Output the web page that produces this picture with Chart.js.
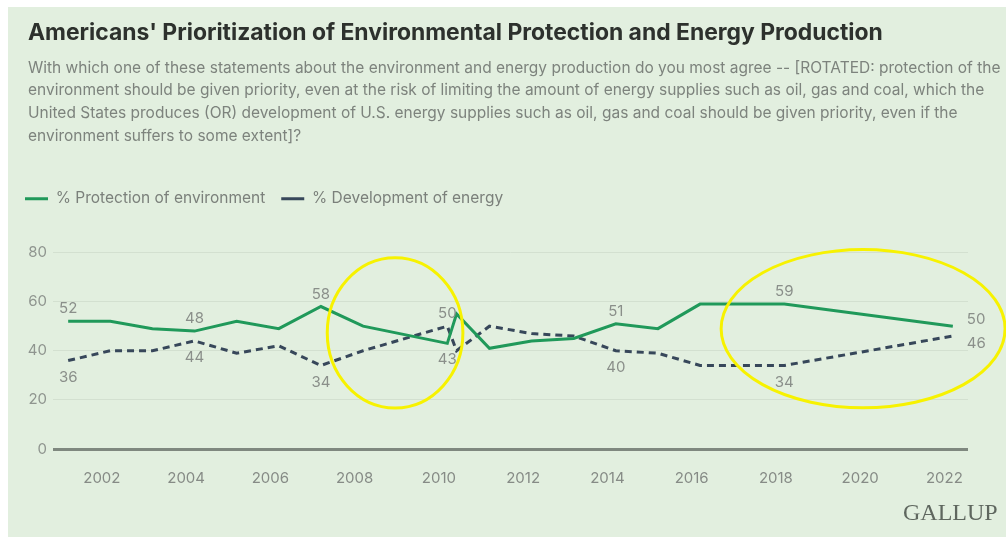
<!DOCTYPE html>
<html>
<head>
<meta charset="utf-8">
<script src="https://cdn.jsdelivr.net/npm/chart.js@4/dist/chart.umd.min.js"></script>
<style>
  html, body { margin: 0; padding: 0; background: #fff; }
  body { width: 1006px; height: 540px; position: relative; overflow: hidden; font-family: Inter, "Noto Sans", sans-serif; }
  .panel { position: absolute; left: 8px; top: 7px; right: 0; bottom: 3px; background: #e2efdf; }
  .title { position: absolute; left: 28px; top: 18px; font-size: 22.9px; font-weight: 700; color: #2d312d; white-space: nowrap; z-index: 2; }
  .sub { position: absolute; left: 28px; top: 56.5px; font-size: 15.5px; line-height: 22.9px; color: #7d837d; white-space: nowrap; z-index: 2; }
  .logo { position: absolute; left: 903px; top: 499px; font-family: "Liberation Serif", serif; font-size: 24px; color: #5f675f; z-index: 2; }
  #chart { position: absolute; left: 0; top: 0; z-index: 1; }
</style>
</head>
<body>
<div class="panel"></div>
<div class="title">Americans' Prioritization of Environmental Protection and Energy Production</div>
<div class="sub">With which one of these statements about the environment and energy production do you most agree -- [ROTATED: protection of the<br>environment should be given priority, even at the risk of limiting the amount of energy supplies such as oil, gas and coal, which the<br>United States produces (OR) development of U.S. energy supplies such as oil, gas and coal should be given priority, even if the<br>environment suffers to some extent]?</div>
<div class="logo">GALLUP</div>
<canvas id="chart" width="1006" height="540"></canvas>
<script>
// poll dates (March of each year, plus the May 2010 poll)
const pollDates = [2001.2, 2002.2, 2003.2, 2004.2, 2005.2, 2006.2, 2007.2, 2008.2, 2010.2, 2010.42,
  2011.2, 2012.2, 2013.2, 2014.2, 2015.2, 2016.2, 2017.2, 2018.2, 2022.2];
const environment = [52, 52, 49, 48, 52, 49, 58, 50, 43, 55, 41, 44, 45, 51, 49, 59, 59, 59, 50];
const energy = [36, 40, 40, 44, 39, 42, 34, 40, 50, 40, 50, 47, 46, 40, 39, 34, 34, 34, 46];
const yearTicks = [2002, 2004, 2006, 2008, 2010, 2012, 2014, 2016, 2018, 2020, 2022];
const valueTicks = [0, 20, 40, 60, 80];

// which points get a value label: [dataset, index, where]
const labelSpots = [
  [0, 0, 'above'], [1, 0, 'below'],
  [0, 3, 'above'], [1, 3, 'below'],
  [0, 6, 'above'], [1, 6, 'below'],
  [1, 8, 'above'], [0, 8, 'below'],
  [0, 13, 'above'], [1, 13, 'below'],
  [0, 17, 'above'], [1, 17, 'below'],
  [0, 18, 'rightUp'], [1, 18, 'rightDown']
];

// yellow highlight rings: centre year, centre value, x radius (years), y radius (points)
const rings = [
  [2008.96, 47.3, 1.61, 30.6],
  [2020.07, 49, 3.37, 32.2]
];

const toPoints = vals => vals.map((v, i) => ({ x: pollDates[i], y: v }));

const valueLabels = {
  id: 'valueLabels',
  afterDatasetsDraw(chart) {
    const ctx = chart.ctx;
    ctx.save();
    ctx.font = '15px Inter, "Noto Sans", sans-serif';
    ctx.fillStyle = '#8a8f8a';
    labelSpots.forEach(([ds, i, where]) => {
      const pt = chart.getDatasetMeta(ds).data[i];
      const txt = String(chart.data.datasets[ds].data[i].y);
      if (where === 'above') {
        ctx.textAlign = 'center'; ctx.textBaseline = 'bottom';
        ctx.fillText(txt, pt.x, pt.y - 5);
      } else if (where === 'below') {
        ctx.textAlign = 'center'; ctx.textBaseline = 'top';
        ctx.fillText(txt, pt.x, pt.y + 9);
      } else {
        ctx.textAlign = 'left'; ctx.textBaseline = 'middle';
        ctx.fillText(txt, pt.x + 14, pt.y + (where === 'rightUp' ? -7 : 7));
      }
    });
    ctx.restore();
  }
};

const highlightRings = {
  id: 'highlightRings',
  afterDraw(chart) {
    const { ctx, scales: { x, y } } = chart;
    ctx.save();
    ctx.strokeStyle = '#f7f200';
    ctx.lineWidth = 3;
    rings.forEach(([cx, cy, rx, ry]) => {
      const px = x.getPixelForValue(cx);
      const py = y.getPixelForValue(cy);
      const prx = Math.abs(x.getPixelForValue(cx + rx) - px);
      const pry = Math.abs(y.getPixelForValue(cy + ry) - py);
      ctx.beginPath();
      ctx.ellipse(px, py, prx, pry, 0, 0, Math.PI * 2);
      ctx.stroke();
    });
    ctx.restore();
  }
};

const legendGap = {
  id: 'legendGap',
  beforeInit(chart) {
    const fit = chart.legend.fit;
    chart.legend.fit = function () {
      fit.bind(chart.legend)();
      this.height += 36;
    };
  }
};

const chartEl = document.getElementById('chart');

new Chart(chartEl, {
  type: 'line',
  data: {
    datasets: [{
      label: '% Protection of environment',
      data: toPoints(environment),
      borderColor: '#20995a',
      backgroundColor: '#20995a',
      borderWidth: 3,
      pointRadius: 0,
      tension: 0
    }, {
      label: '% Development of energy',
      data: toPoints(energy),
      borderColor: '#37475a',
      backgroundColor: '#37475a',
      borderWidth: 3,
      borderDash: [7, 5],
      pointRadius: 0,
      tension: 0
    }]
  },
  options: {
    responsive: false,
    animation: false,
    layout: { padding: { left: 9, right: 38, top: 173, bottom: 0 } },
    plugins: {
      legend: {
        align: 'start',
        labels: {
          usePointStyle: true,
          pointStyle: 'line',
          pointStyleWidth: 23,
          padding: 16,
          color: '#7b807b',
          font: { family: 'Inter, "Noto Sans", sans-serif', size: 15.5 }
        }
      },
      tooltip: { enabled: false }
    },
    scales: {
      x: {
        type: 'linear',
        min: 2000.84,
        max: 2022.56,
        afterBuildTicks: s => { s.ticks = yearTicks.map(v => ({ value: v })); },
        afterFit: s => { s.height = 91; },
        grid: { display: false },
        border: { display: false },
        ticks: {
          padding: 12,
          color: '#868b86',
          font: { family: 'Inter, "Noto Sans", sans-serif', size: 15 },
          callback: v => String(v)
        }
      },
      y: {
        min: 0,
        max: 80,
        afterBuildTicks: s => { s.ticks = valueTicks.map(v => ({ value: v })); },
        afterFit: s => { s.width = 44; },
        border: { display: false },
        grid: {
          drawTicks: false,
          color: c => c.tick.value === 0 ? '#7f887f' : '#d3e0d0',
          lineWidth: c => c.tick.value === 0 ? 3 : 1
        },
        ticks: {
          padding: 6,
          color: '#8f958f',
          font: { family: 'Inter, "Noto Sans", sans-serif', size: 15 }
        }
      }
    }
  },
  plugins: [valueLabels, highlightRings, {
    id: 'legendNudge',
    beforeInit(chart) { chart.options.layout.padding.top = 175; }
  }, legendGap]
});
</script>
</body>
</html>
